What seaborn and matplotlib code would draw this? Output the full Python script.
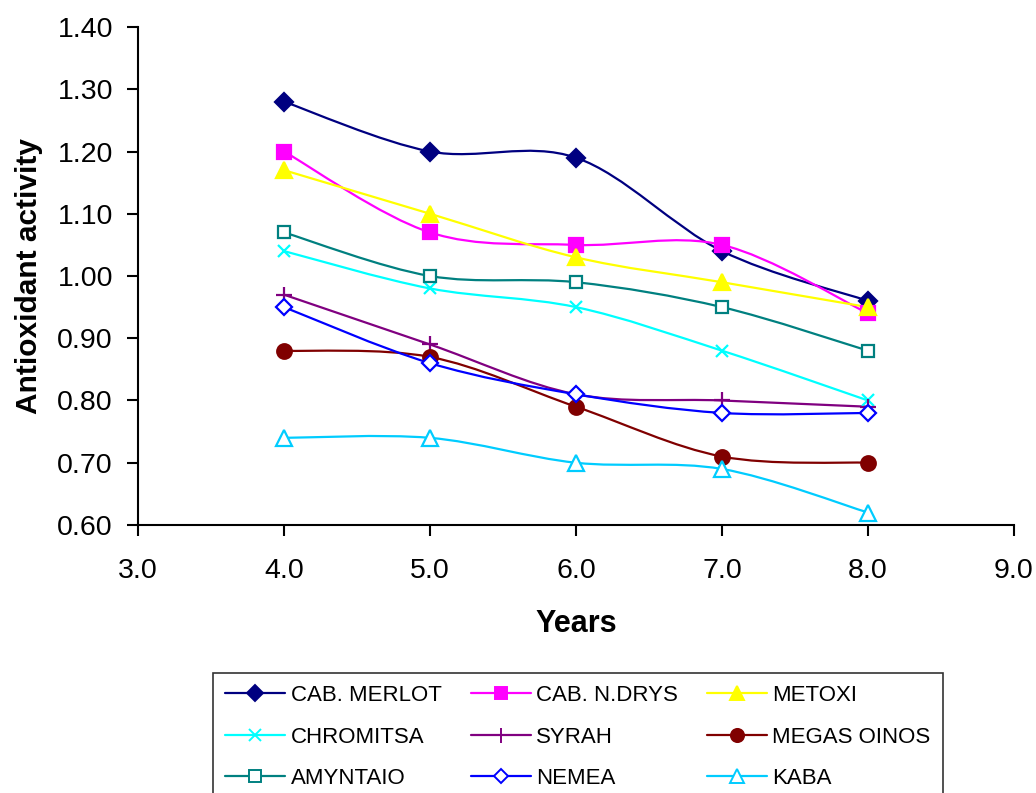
import numpy as np
import pandas as pd
import matplotlib
matplotlib.use("Agg")
import matplotlib.pyplot as plt
from matplotlib.path import Path
from matplotlib.patches import PathPatch
from matplotlib.lines import Line2D
import seaborn as sns

# ---------------- data ----------------
years = [4.0, 5.0, 6.0, 7.0, 8.0]
series_names = ["CAB. MERLOT", "CAB. N.DRYS", "METOXI",
                "CHROMITSA", "SYRAH", "MEGAS OINOS",
                "AMYNTAIO", "NEMEA", "KABA"]
cab_merlot = [1.28, 1.20, 1.19, 1.04, 0.96]
cab_ndrys = [1.20, 1.07, 1.05, 1.05, 0.94]
metoxi = [1.17, 1.10, 1.03, 0.99, 0.95]
chromitsa = [1.04, 0.98, 0.95, 0.88, 0.80]
syrah = [0.97, 0.89, 0.81, 0.80, 0.79]
megas_oinos = [0.88, 0.87, 0.79, 0.71, 0.70]
amyntaio = [1.07, 1.00, 0.99, 0.95, 0.88]
nemea = [0.95, 0.86, 0.81, 0.78, 0.78]
kaba = [0.74, 0.74, 0.70, 0.69, 0.62]
all_values = [cab_merlot, cab_ndrys, metoxi, chromitsa, syrah,
              megas_oinos, amyntaio, nemea, kaba]

x_ticks = [3.0, 4.0, 5.0, 6.0, 7.0, 8.0, 9.0]
y_ticks = [0.60, 0.70, 0.80, 0.90, 1.00, 1.10, 1.20, 1.30, 1.40]

# ---------------- styles ----------------
styles = {
    "CAB. MERLOT": dict(color="#000080", marker="D", mfc="#000080", ms=9),
    "CAB. N.DRYS": dict(color="#FF00FF", marker="s", mfc="#FF00FF", ms=9.5),
    "METOXI":      dict(color="#FFFF00", marker="^", mfc="#FFFF00", ms=11.5),
    "CHROMITSA":   dict(color="#00FFFF", marker="x", mfc="#00FFFF", ms=9),
    "SYRAH":       dict(color="#800080", marker="+", mfc="#800080", ms=12),
    "MEGAS OINOS": dict(color="#800000", marker="o", mfc="#800000", ms=10.5),
    "AMYNTAIO":    dict(color="#008080", marker="s", mfc="white", ms=9),
    "NEMEA":       dict(color="#0000FF", marker="D", mfc="white", ms=8),
    "KABA":        dict(color="#00CCFF", marker="^", mfc="white", ms=11),
}

sns.set_style("ticks")
plt.rcParams["font.family"] = ["Liberation Sans", "DejaVu Sans"]
plt.rcParams["text.color"] = "black"
plt.rcParams["axes.labelcolor"] = "black"
plt.rcParams["xtick.color"] = "black"
plt.rcParams["ytick.color"] = "black"

df = pd.DataFrame({
    "Years": np.tile(years, len(series_names)),
    "value": np.concatenate(all_values),
    "series": np.repeat(series_names, len(years)),
})

fig = plt.figure(figsize=(10.36, 7.93), dpi=100)
ax = fig.add_axes([138 / 1036, 1 - 525 / 793, (1014 - 138) / 1036, (525 - 27) / 793])


def smooth_path(xs, ys):
    pts = np.column_stack([xs, ys])
    n = len(pts)
    verts = [pts[0]]
    codes = [Path.MOVETO]
    for i in range(n - 1):
        p_prev = pts[i - 1] if i > 0 else pts[i]
        p0 = pts[i]
        p1 = pts[i + 1]
        p_next = pts[i + 2] if i + 2 < n else pts[i + 1]
        c1 = p0 + (p1 - p_prev) / 6.0
        c2 = p1 - (p_next - p0) / 6.0
        verts += [c1, c2, p1]
        codes += [Path.CURVE4] * 3
    return Path(verts, codes)


handles = []
for z, name in enumerate(series_names):
    st = styles[name]
    sub = df[df["series"] == name]
    patch = PathPatch(smooth_path(sub["Years"].values, sub["value"].values),
                      facecolor="none", edgecolor=st["color"], lw=1.6,
                      zorder=2 + z * 0.1)
    ax.add_patch(patch)
    sns.lineplot(data=sub, x="Years", y="value", ax=ax, linestyle="",
                 marker=st["marker"], markersize=st["ms"],
                 markerfacecolor=st["mfc"], markeredgecolor=st["color"],
                 markeredgewidth=1.6, color=st["color"], zorder=3 + z * 0.1,
                 legend=False)
    handles.append(Line2D([0], [0], color=st["color"], lw=1.6,
                          marker=st["marker"], markersize=st["ms"] * 0.9,
                          markerfacecolor=st["mfc"], markeredgecolor=st["color"],
                          markeredgewidth=1.4, label=name))

ax.set_xlim(3.0, 9.0)
ax.set_ylim(0.60, 1.40)
ax.set_xticks(x_ticks)
ax.set_xticklabels([f"{v:.1f}" for v in x_ticks])
ax.set_yticks(y_ticks)
ax.set_yticklabels([f"{v:.2f}" for v in y_ticks])
ax.tick_params(axis="both", direction="out", length=8, width=1.5,
               labelsize=20.5, colors="black")
ax.tick_params(axis="x", pad=16)
ax.tick_params(axis="y", pad=10)
for s in ["top", "right"]:
    ax.spines[s].set_visible(False)
for s in ["left", "bottom"]:
    ax.spines[s].set_linewidth(1.5)
    ax.spines[s].set_color("black")

ax.set_xlabel("Years", fontsize=22, fontweight="bold", labelpad=18, color="black")
ax.set_ylabel("Antioxidant activity", fontsize=21.5, fontweight="bold",
              labelpad=10, color="black")

# legend is filled column by column: reorder so it reads row by row
ncol = 3
nrow = 3
order = [r * ncol + c for c in range(ncol) for r in range(nrow)]
leg = fig.legend(handles=[handles[i] for i in order], ncol=ncol, loc="upper left",
                 bbox_to_anchor=(213 / 1036, 1 - 673 / 793),
                 fontsize=16, frameon=True, fancybox=False, shadow=False,
                 edgecolor="black", handlelength=2.7, handletextpad=0.25,
                 columnspacing=1.3, labelspacing=0.92, borderpad=0.55,
                 borderaxespad=0, labelcolor="black")
leg.get_frame().set_linewidth(1.2)

fig.savefig("out.png", dpi=100)
